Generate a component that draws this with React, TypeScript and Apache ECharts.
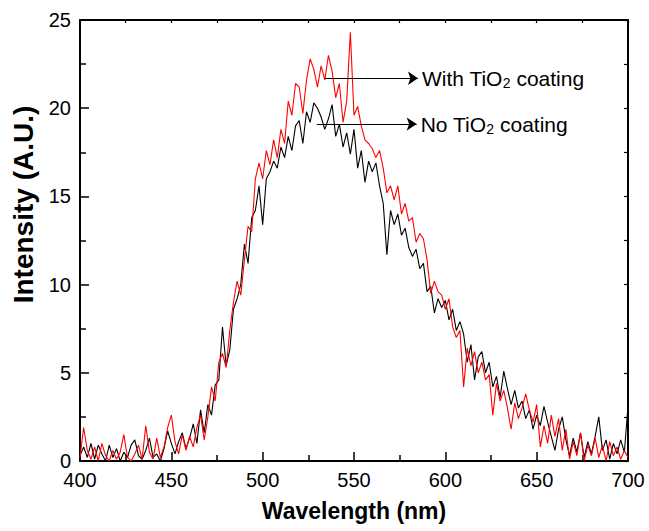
import React, { useEffect, useRef } from "react";
import * as echarts from "echarts";

const wavelength = [
  400, 402, 404, 406, 408, 410, 412, 414, 416, 418,
  420, 422, 424, 426, 428, 430, 432, 434, 436, 438,
  440, 442, 444, 446, 448, 450, 452, 454, 456, 458,
  460, 462, 464, 466, 468, 470, 472, 474, 476, 478,
  480, 482, 484, 486, 488, 490, 492, 494, 496, 498,
  500, 502, 504, 506, 508, 510, 512, 514, 516, 518,
  520, 522, 524, 526, 528, 530, 532, 534, 536, 538,
  540, 542, 544, 546, 548, 550, 552, 554, 556, 558,
  560, 562, 564, 566, 568, 570, 572, 574, 576, 578,
  580, 582, 584, 586, 588, 590, 592, 594, 596, 598,
  600, 602, 604, 606, 608, 610, 612, 614, 616, 618,
  620, 622, 624, 626, 628, 630, 632, 634, 636, 638,
  640, 642, 644, 646, 648, 650, 652, 654, 656, 658,
  660, 662, 664, 666, 668, 670, 672, 674, 676, 678,
  680, 682, 684, 686, 688, 690, 692, 694, 696, 698,
  700,
];

const noCoating = [
  0.3, 0.8, 0.2, 1.0, 0.1, 0.9, 0.4, 0.0, 0.9, 0.2,
  0.7, 0.0, 0.5, 0.2, 0.9, 1.2, 0.3, 0.1, 0.6, 1.3,
  0.2, 0.4, 0.0, 0.7, 1.7, 1.0, 0.4, 1.1, 1.6, 0.7,
  1.3, 2.1, 1.0, 2.9, 1.6, 3.2, 2.6, 4.3, 4.6, 7.6,
  5.4, 6.3, 8.6, 9.2, 10.0, 12.3, 11.2, 13.8, 14.2, 15.6,
  13.4, 16.0, 16.4, 17.0, 16.6, 17.8, 17.2, 18.4, 17.6, 19.0,
  19.3, 18.0, 19.8, 19.2, 20.3, 20.0, 19.5, 18.8, 19.4, 20.2,
  18.4, 19.1, 17.8, 18.6, 17.4, 18.8, 16.6, 17.6, 15.8, 17.0,
  16.4, 16.9, 15.6, 14.6, 11.7, 14.2, 13.4, 14.0, 12.8, 13.2,
  12.1, 11.6, 12.0, 10.9, 11.2, 9.6, 9.9, 8.4, 9.2, 8.7,
  9.1, 8.0, 8.6, 7.4, 7.9, 7.2, 5.6, 6.6, 4.6, 5.9,
  6.2, 5.0, 5.6, 4.2, 4.8, 3.6, 5.1, 4.1, 3.2, 4.0,
  3.0, 3.4, 2.4, 2.9, 1.8, 2.6, 2.0, 3.1, 2.2, 1.4,
  0.6, 1.8, 2.5, 1.2, 0.3, 1.3, 0.5, 1.6, 0.2, 1.1,
  0.4, 1.4, 2.5, 0.6, 1.2, 0.1, 1.0, 0.4, 1.2, 0.5,
  3.1,
];

const withCoating = [
  0.2, 1.9, 0.6, 0.1, 0.8, 0.0, 1.0, 0.3, 0.0, 0.6,
  0.1, 0.5, 1.5, 0.2, 0.0, 0.4, 0.9, 0.1, 2.0, 0.5,
  0.1, 1.3, 0.2, 0.8, 1.9, 2.6, 1.1, 0.4, 1.5, 0.6,
  1.4, 0.8, 1.9, 2.6, 1.2, 2.5, 4.2, 3.4, 5.6, 6.1,
  5.3, 7.4, 9.0, 10.2, 9.4, 11.4, 13.3, 13.0, 16.0, 16.9,
  16.0, 17.6, 16.8, 18.2, 17.2, 18.8, 18.0, 20.4, 19.6, 21.4,
  21.2, 19.7, 21.6, 22.8, 22.2, 21.2, 22.4, 21.6, 23.0, 22.1,
  20.6, 21.4, 19.2, 20.4, 24.3, 19.6, 20.1, 19.0, 18.2, 18.0,
  17.7, 17.2, 17.6, 16.6, 15.2, 15.6, 14.8, 15.6, 14.0, 14.6,
  13.6, 13.8, 12.4, 12.9, 12.6, 11.4, 9.5, 10.2, 9.6, 9.4,
  8.6, 9.2, 7.6, 7.0, 7.4, 4.2, 6.4, 5.4, 6.2, 5.0,
  5.6, 4.6, 4.9, 2.6, 4.4, 3.4, 4.0, 3.0, 1.8, 3.3,
  2.4, 3.0, 3.8, 2.9, 2.2, 3.2, 0.8, 2.0, 1.0, 2.6,
  1.4, 2.4, 0.6, 1.8, 0.1, 1.1, 0.3, 1.6, 0.0, 0.9,
  0.3, 1.3, 0.2, 0.9, 0.0, 1.1, 0.3, 0.8, 0.1, 0.6,
  0.2,
];

const labelWith = "{a|With TiO}{s|2}{a| coating}";
const labelNo = "{a|No TiO}{s|2}{a| coating}";
const xName = "Wavelength (nm)";
const yName = "Intensity (A.U.)";

const FONT = "'Liberation Sans', Arial, Helvetica, sans-serif";

const rich = {
  a: { fontSize: 21, fontFamily: FONT, color: "#000", lineHeight: 24 },
  s: { fontSize: 14, fontFamily: FONT, color: "#000", lineHeight: 4, verticalAlign: "bottom" },
};

function arrow(x0: number, x1: number, y: number, text: string) {
  return [
    {
      coord: [x0, y],
      label: { show: true, position: "end", distance: 4, formatter: text, rich },
    },
    { coord: [x1, y] },
  ];
}

export default function App() {
  const ref = useRef<HTMLDivElement>(null);
  useEffect(() => {
    if (!ref.current) return;
    const chart = echarts.init(ref.current, null, { renderer: "svg" });
    const axisLine = { show: true, onZero: false, lineStyle: { color: "#000", width: 2 } };
    const option = {
      animation: false,
      backgroundColor: "#fff",
      grid: { left: 80, right: 21, top: 20, bottom: 70, containLabel: false },
      xAxis: [
        {
          type: "value",
          min: 400,
          max: 700,
          interval: 50,
          position: "bottom",
          name: xName,
          nameLocation: "middle",
          nameGap: 38,
          nameTextStyle: { fontFamily: FONT, fontSize: 23, fontWeight: "bold", color: "#000" },
          axisLine,
          axisTick: { show: true, inside: true, length: 9, lineStyle: { color: "#000", width: 1.5 } },
          minorTick: { show: true, splitNumber: 2, length: 6, lineStyle: { color: "#000", width: 1.5 } },
          axisLabel: { fontFamily: FONT, fontSize: 20, color: "#000", margin: 11, lineHeight: 16 },
          splitLine: { show: false },
          minorSplitLine: { show: false },
        },
        {
          type: "value",
          min: 400,
          max: 700,
          interval: 25,
          position: "top",
          axisLine,
          axisTick: { show: true, inside: true, length: 3, lineStyle: { color: "#000", width: 1.2 } },
          axisLabel: { show: false },
          splitLine: { show: false },
        },
      ],
      yAxis: [
        {
          type: "value",
          min: 0,
          max: 25,
          interval: 5,
          position: "left",
          name: yName,
          nameLocation: "middle",
          nameGap: 42,
          nameTextStyle: {
            fontFamily: FONT,
            fontSize: 28,
            fontWeight: "bold",
            color: "#000",
            padding: [0, 0, 0, 72],
          },
          axisLine,
          axisTick: { show: true, inside: true, length: 9, lineStyle: { color: "#000", width: 1.5 } },
          minorTick: { show: true, splitNumber: 2, length: 6, lineStyle: { color: "#000", width: 1.5 } },
          axisLabel: {
            fontFamily: FONT,
            fontSize: 20,
            color: "#000",
            margin: 9,
            lineHeight: 16,
            padding: [0, 0, 4, 0],
          },
          splitLine: { show: false },
          minorSplitLine: { show: false },
        },
        {
          type: "value",
          min: 0,
          max: 25,
          interval: 2.5,
          position: "right",
          axisLine,
          axisTick: { show: true, inside: true, length: 4, lineStyle: { color: "#000", width: 1.2 } },
          axisLabel: { show: false },
          splitLine: { show: false },
        },
      ],
      series: [
        {
          name: "No TiO2 coating",
          type: "line",
          xAxisIndex: 0,
          yAxisIndex: 0,
          data: wavelength.map((w, i) => [w, noCoating[i]]),
          symbol: "none",
          showSymbol: false,
          lineStyle: { color: "#000", width: 1.1 },
          z: 2,
          markLine: {
            silent: true,
            symbol: ["none", "arrow"],
            symbolSize: 10,
            lineStyle: { color: "#000", width: 1.2, type: "solid" },
            data: [arrow(529.6, 584.3, 19.1, labelNo)],
          },
        },
        {
          name: "With TiO2 coating",
          type: "line",
          xAxisIndex: 0,
          yAxisIndex: 0,
          data: wavelength.map((w, i) => [w, withCoating[i]]),
          symbol: "none",
          showSymbol: false,
          lineStyle: { color: "#ff0000", width: 1.1 },
          z: 3,
          markLine: {
            silent: true,
            symbol: ["none", "arrow"],
            symbolSize: 10,
            lineStyle: { color: "#000", width: 1.2, type: "solid" },
            data: [arrow(534.1, 585.0, 21.7, labelWith)],
          },
        },
      ],
    };
    chart.setOption(option as any);
    return () => chart.dispose();
  }, []);
  return (
    <div
      ref={ref}
      style={{ position: "absolute", left: 0, top: 0, width: 649, height: 531 }}
    />
  );
}
